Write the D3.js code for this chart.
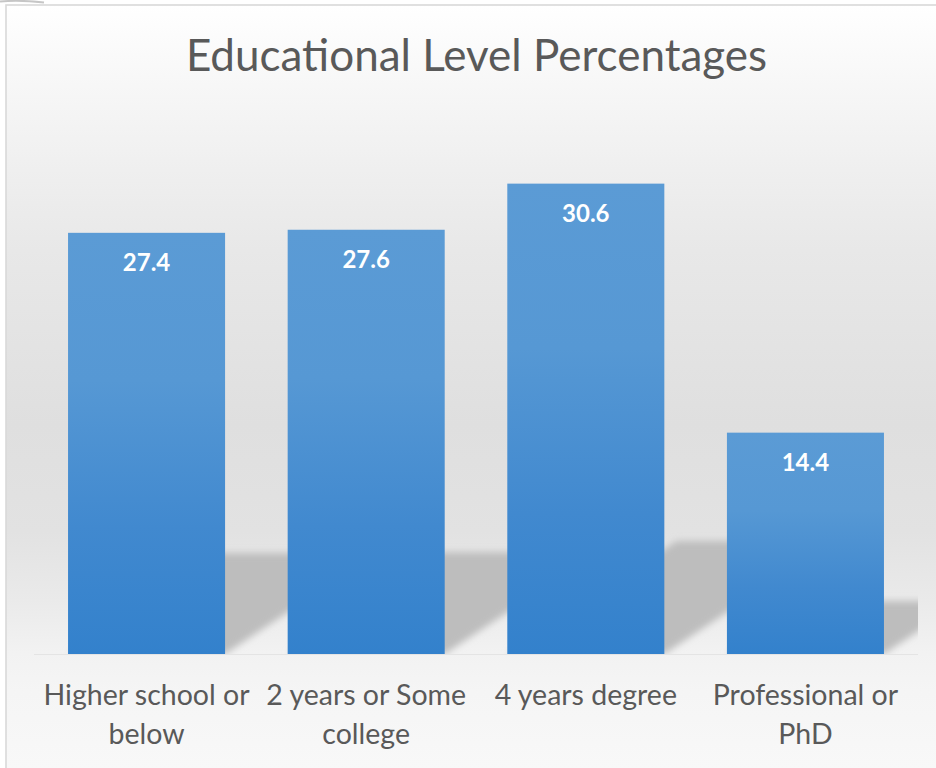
<!DOCTYPE html>
<html>
<head>
<meta charset="utf-8">
<script src="https://cdn.jsdelivr.net/npm/d3@7"></script>
<style>
  html, body { margin: 0; padding: 0; background: #ffffff; }
  svg { display: block; }
</style>
</head>
<body>
<svg id="chart" width="936" height="768"></svg>
<script>
// Share of respondents by highest educational level (%)
const categories = [
  "Higher school or below",
  "2 years or Some college",
  "4 years degree",
  "Professional or PhD"
];
const values = [27.4, 27.6, 30.6, 14.4];
const titleText = "Educational Level Percentages";
const yDomain = [0, 35];

const W = 936, H = 768;
const svg = d3.select("#chart");
const defs = svg.append("defs");

// chart-area fill: white at the top, soft grey through the middle, lighter again at the floor
const bg = defs.append("linearGradient")
  .attr("id", "bgGrad").attr("gradientUnits", "userSpaceOnUse")
  .attr("x1", 0).attr("y1", 5).attr("x2", 0).attr("y2", H);
[
  [0, "#ffffff"], [0.12, "#f6f6f6"], [0.23, "#eeeeee"], [0.32, "#e8e8e8"],
  [0.55, "#dfdfdf"], [0.69, "#e2e2e2"], [0.78, "#eaeaea"], [0.85, "#f2f2f2"],
  [0.90, "#f5f5f5"], [1, "#f8f8f8"]
].forEach(([o, c]) => bg.append("stop").attr("offset", o).attr("stop-color", c));

// bar fill: lighter blue at the top, deeper blue toward the base
const barGrad = defs.append("linearGradient")
  .attr("id", "barGrad").attr("x1", 0).attr("y1", 0).attr("x2", 0).attr("y2", 1);
[[0, "#5b9bd5"], [0.35, "#5698d4"], [0.7, "#4189cf"], [1, "#3381cc"]]
  .forEach(([o, c]) => barGrad.append("stop").attr("offset", o).attr("stop-color", c));

defs.append("filter").attr("id", "shadowBlur")
  .attr("x", "-20%").attr("y", "-20%").attr("width", "140%").attr("height", "140%")
  .append("feGaussianBlur").attr("stdDeviation", 3.5);

// background + frame
svg.append("rect").attr("x", 6).attr("y", 5).attr("width", W + 20).attr("height", H + 20)
  .attr("fill", "url(#bgGrad)")
  .attr("stroke", "#d9d9d9").attr("stroke-width", 1.6);

// small grey sliver in the top-left corner
svg.append("path")
  .attr("d", "M0,1.5 C12,0.5 26,0.5 44,2.5")
  .attr("fill", "none").attr("stroke", "#b8b8b8").attr("stroke-width", 2)
  .attr("opacity", 0.8);

// scales
const x = d3.scaleBand().domain(categories).range([34, 918])
  .paddingInner(0.285).paddingOuter(0.155);
const y = d3.scaleLinear().domain(yDomain).range([654, 116]);
const base = y(0);

const data = categories.map((c, i) => ({ cat: c, v: values[i] }));

// clip for the series area
defs.append("clipPath").attr("id", "plotClip")
  .append("rect").attr("x", x.range()[0]).attr("y", 0)
  .attr("width", x.range()[1] - x.range()[0]).attr("height", base + 1);

// perspective shadows cast up and to the right of each bar
const shadowScale = 0.24, shadowSkew = 1.5;
svg.append("g").attr("clip-path", "url(#plotClip)")
  .append("g").attr("filter", "url(#shadowBlur)")
  .selectAll("path").data(data).join("path")
  .attr("fill", "#bdbdbd")
  .attr("d", d => {
    const L = x(d.cat), R = L + x.bandwidth();
    const hs = (base - y(d.v)) * shadowScale, dx = hs * shadowSkew;
    return `M${L},${base}L${R},${base}L${R + dx},${base - hs}L${L + dx},${base - hs}Z`;
  });

// category axis line (very faint)
svg.append("line")
  .attr("x1", x.range()[0]).attr("x2", x.range()[1])
  .attr("y1", base + 0.5).attr("y2", base + 0.5)
  .attr("stroke", "#e4e4e4").attr("stroke-width", 1);

// bars
svg.append("g").selectAll("rect").data(data).join("rect")
  .attr("x", d => x(d.cat))
  .attr("y", d => y(d.v))
  .attr("width", x.bandwidth())
  .attr("height", d => base - y(d.v))
  .attr("fill", "url(#barGrad)");

// value labels inside the top of each bar
svg.append("g").selectAll("text").data(data).join("text")
  .attr("x", d => x(d.cat) + x.bandwidth() / 2)
  .attr("y", d => y(d.v) + 38)
  .attr("text-anchor", "middle")
  .attr("font-family", "Lato, 'Open Sans', sans-serif")
  .attr("font-weight", 700)
  .attr("font-size", 24)
  .attr("fill", "#ffffff")
  .text(d => d.v.toFixed(1));

// title
svg.append("text")
  .attr("x", 476.5).attr("y", 71)
  .attr("text-anchor", "middle")
  .attr("font-family", "Lato, 'Open Sans', sans-serif")
  .attr("font-weight", 400)
  .attr("font-size", 44)
  .attr("fill", "#595959")
  .text(titleText);

// category labels, wrapped to the band step
const labelG = svg.append("g")
  .attr("font-family", "Lato, 'Open Sans', sans-serif")
  .attr("font-size", 28.5)
  .attr("fill", "#595959");

const maxW = x.step() + 6;
categories.forEach(c => {
  const cx = x(c) + x.bandwidth() / 2;
  const t = labelG.append("text").attr("text-anchor", "middle");
  const words = c.split(" ");
  const lines = [];
  let cur = [];
  const probe = labelG.append("text");
  words.forEach(w => {
    const test = cur.concat([w]).join(" ");
    probe.text(test);
    if (cur.length && probe.node().getComputedTextLength() > maxW) {
      lines.push(cur.join(" "));
      cur = [w];
    } else {
      cur.push(w);
    }
  });
  if (cur.length) lines.push(cur.join(" "));
  probe.remove();
  lines.forEach((ln, i) => {
    t.append("tspan").attr("x", cx).attr("y", 705 + i * 39).text(ln);
  });
});
</script>
</body>
</html>
